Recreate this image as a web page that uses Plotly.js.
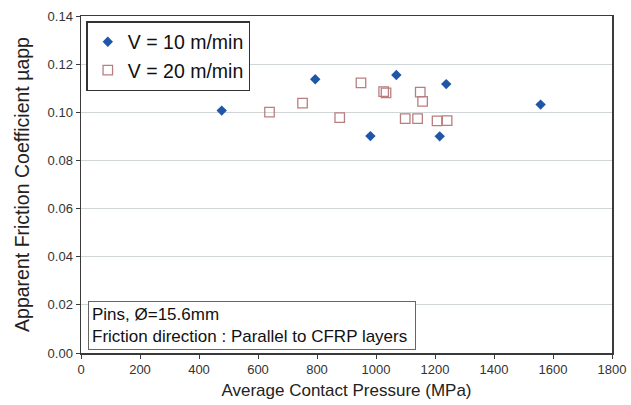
<!DOCTYPE html>
<html>
<head>
<meta charset="utf-8">
<script src="https://cdn.plot.ly/plotly-3.0.1.min.js"></script>
<style>html,body{margin:0;padding:0;background:#fff;}#chart{width:631px;height:405px;}</style>
</head>
<body>
<div id="chart"></div>
<script>
var v10Pressure = [477, 794, 981, 1069, 1216, 1238, 1558];
var v10Mu = [0.1007, 0.1137, 0.0901, 0.1155, 0.0900, 0.1117, 0.1032];
var v20Pressure = [639, 751, 877, 949, 1026, 1034, 1099, 1141, 1150, 1158, 1207, 1241];
var v20Mu = [0.1001, 0.1038, 0.0978, 0.1122, 0.1086, 0.1081, 0.0974, 0.0974, 0.1084, 0.1045, 0.0964, 0.0965];
var xTicks = [0, 200, 400, 600, 800, 1000, 1200, 1400, 1600, 1800];
var yTicks = [0, 0.02, 0.04, 0.06, 0.08, 0.10, 0.12, 0.14];
var seriesNames = ['V = 10 m/min', 'V = 20 m/min'];

var font = "'Liberation Sans', Arial, sans-serif";
var traces = [
  {x: v10Pressure, y: v10Mu, mode: 'markers', type: 'scatter', name: seriesNames[0],
   marker: {symbol: 'diamond', size: 8, color: '#1f56a8', line: {width: 0}}},
  {x: v20Pressure, y: v20Mu, mode: 'markers', type: 'scatter', name: seriesNames[1],
   marker: {symbol: 'square-open', size: 9.5, color: '#b97f80', line: {width: 1.3}}}
];
var layout = {
  width: 631, height: 405,
  margin: {l: 81, r: 19, t: 16, b: 52},
  paper_bgcolor: '#ffffff', plot_bgcolor: '#ffffff',
  font: {family: font, color: '#222'},
  showlegend: true,
  legend: {x: 0.01, y: 0.985, xanchor: 'left', yanchor: 'top',
    bgcolor: '#ffffff', bordercolor: '#333', borderwidth: 1.5,
    font: {size: 19.5, color: '#111', family: font}, tracegroupgap: 0},
  xaxis: {range: [0, 1800], tickvals: xTicks, ticktext: xTicks.map(String),
    showgrid: false, zeroline: false, showline: true, linecolor: '#3a3a3a', linewidth: 1.5,
    mirror: true, ticks: 'outside', ticklen: 4, tickcolor: '#3a3a3a',
    tickfont: {size: 13, color: '#333'},
    title: {text: 'Average Contact Pressure (MPa)', font: {size: 17, color: '#222'}, standoff: 8}},
  yaxis: {range: [0, 0.14], tickvals: yTicks, ticktext: yTicks.map(function(v){return v.toFixed(2);}),
    showgrid: true, gridcolor: '#d0d6d8', gridwidth: 1, zeroline: false,
    showline: true, linecolor: '#3a3a3a', linewidth: 1.5, mirror: true,
    ticks: 'outside', ticklen: 4, tickcolor: '#3a3a3a',
    tickfont: {size: 13, color: '#333'},
    title: {text: 'Apparent Friction Coefficient µapp', font: {size: 19.5, color: '#222'}, standoff: 13}},
  annotations: [{
    xref: 'paper', yref: 'paper', x: 0.014, y: 0.01, xanchor: 'left', yanchor: 'bottom',
    text: 'Pins, Ø=15.6mm<br>Friction direction : Parallel to CFRP layers ',
    align: 'left', showarrow: false, font: {size: 17, color: '#111', family: font},
    bgcolor: '#ffffff', bordercolor: '#666', borderwidth: 1, borderpad: 3
  }]
};
Plotly.newPlot('chart', traces, layout, {displayModeBar: false, staticPlot: true});
</script>
</body>
</html>
